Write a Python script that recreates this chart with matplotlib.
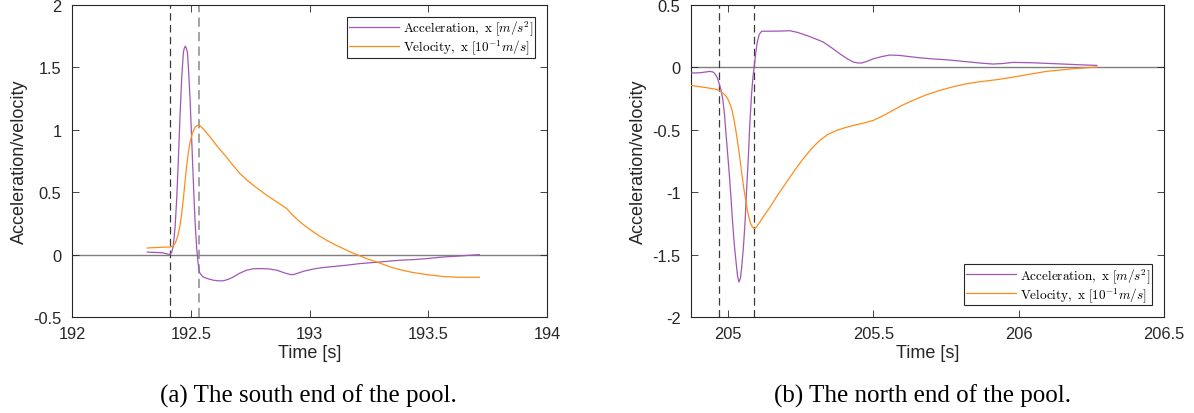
import matplotlib
matplotlib.use("Agg")
import matplotlib.pyplot as plt
import numpy as np

# ---------------- data ----------------
# (a) south end
t_acc_a = [192.317, 192.380, 192.413, 192.420, 192.427, 192.434, 192.441, 192.448,
           192.455, 192.462, 192.469, 192.473, 192.477, 192.481, 192.486, 192.491,
           192.497, 192.504, 192.511, 192.518, 192.525, 192.531, 192.536, 192.545,
           192.553, 192.575, 192.595, 192.615, 192.637, 192.658, 192.679, 192.705,
           192.735, 192.765, 192.792, 192.830, 192.862, 192.885, 192.904, 192.920,
           192.932, 192.950, 192.974, 193.010, 193.044, 193.080, 193.114, 193.160,
           193.213, 193.297, 193.381, 193.440, 193.493, 193.564, 193.634, 193.715]
acc_a = [0.02, 0.015, 0.0, 0.02, 0.075, 0.22, 0.45, 0.77,
         1.12, 1.42, 1.62, 1.655, 1.67, 1.655, 1.62, 1.47,
         1.25, 0.92, 0.58, 0.27, 0.05, -0.07, -0.14, -0.165,
         -0.18, -0.195, -0.205, -0.21, -0.21, -0.198, -0.18, -0.15,
         -0.125, -0.113, -0.112, -0.115, -0.125, -0.14, -0.152, -0.16,
         -0.16, -0.15, -0.134, -0.118, -0.107, -0.099, -0.093, -0.084,
         -0.072, -0.059, -0.045, -0.040, -0.032, -0.019, -0.011, 0.0]

t_vel_a = [192.317, 192.380, 192.413, 192.424, 192.434, 192.445, 192.455, 192.462,
           192.469, 192.476, 192.483, 192.490, 192.497, 192.507, 192.518, 192.525,
           192.532, 192.539, 192.546, 192.563, 192.581, 192.615, 192.651, 192.680,
           192.707, 192.735, 192.764, 192.792, 192.820, 192.860, 192.904, 192.930,
           192.960, 192.988, 193.016, 193.044, 193.072, 193.107, 193.142, 193.170,
           193.199, 193.240, 193.283, 193.320, 193.353, 193.395, 193.437, 193.493,
           193.564, 193.634, 193.715]
vel_a = [0.053, 0.059, 0.061, 0.068, 0.088, 0.145, 0.235, 0.33,
         0.45, 0.585, 0.716, 0.82, 0.90, 0.975, 1.02, 1.032,
         1.036, 1.031, 1.02, 0.985, 0.943, 0.86, 0.78, 0.71,
         0.65, 0.60, 0.555, 0.515, 0.475, 0.425, 0.369, 0.315,
         0.262, 0.22, 0.182, 0.147, 0.115, 0.08, 0.048, 0.023,
         0.0, -0.032, -0.059, -0.085, -0.107, -0.127, -0.144, -0.16,
         -0.176, -0.182, -0.182]

marks_a = [192.413, 192.533]

# (b) north end
t_acc_b = [204.873, 204.904, 204.938, 204.948, 204.955, 204.963, 204.970, 204.976,
           204.982, 204.988, 204.993, 204.999, 205.005, 205.011, 205.016, 205.022,
           205.028, 205.033, 205.038, 205.043, 205.047, 205.053, 205.059, 205.064,
           205.070, 205.075, 205.081, 205.086, 205.091, 205.096, 205.101, 205.108,
           205.116, 205.145, 205.180, 205.213, 205.240, 205.271, 205.300, 205.328,
           205.357, 205.385, 205.410, 205.431, 205.446, 205.460, 205.480, 205.500,
           205.530, 205.557, 205.591, 205.625, 205.660, 205.705, 205.752, 205.792,
           205.832, 205.872, 205.912, 205.945, 205.980, 206.049, 206.100, 206.152,
           206.210, 206.269]
acc_b = [-0.045, -0.043, -0.032, -0.036, -0.05, -0.08, -0.13, -0.18,
         -0.25, -0.37, -0.52, -0.69, -0.865, -1.06, -1.24, -1.42,
         -1.56, -1.67, -1.72, -1.69, -1.61, -1.45, -1.24, -0.99,
         -0.73, -0.47, -0.224, -0.08, 0.016, 0.12, 0.203, 0.265,
         0.29, 0.29, 0.291, 0.294, 0.28, 0.256, 0.23, 0.203,
         0.157, 0.109, 0.07, 0.043, 0.036, 0.035, 0.05, 0.069,
         0.087, 0.099, 0.096, 0.086, 0.077, 0.068, 0.061, 0.052,
         0.043, 0.034, 0.027, 0.031, 0.040, 0.037, 0.032, 0.027,
         0.021, 0.016]

t_vel_b = [204.873, 204.927, 204.961, 204.970, 204.978, 204.987, 204.996, 205.004,
           205.013, 205.021, 205.030, 205.039, 205.047, 205.055, 205.064, 205.071,
           205.078, 205.085, 205.092, 205.100, 205.110, 205.125, 205.145, 205.172,
           205.202, 205.230, 205.259, 205.287, 205.316, 205.345, 205.374, 205.400,
           205.431, 205.465, 205.500, 205.535, 205.568, 205.600, 205.637, 205.680,
           205.729, 205.775, 205.820, 205.870, 205.923, 205.970, 206.015, 206.095,
           206.187, 206.269]
vel_b = [-0.144, -0.163, -0.176, -0.185, -0.198, -0.214, -0.238, -0.275,
         -0.331, -0.42, -0.545, -0.69, -0.838, -0.975, -1.105, -1.19,
         -1.252, -1.282, -1.292, -1.272, -1.239, -1.185, -1.119, -1.02,
         -0.919, -0.823, -0.732, -0.652, -0.585, -0.535, -0.505, -0.485,
         -0.465, -0.447, -0.425, -0.386, -0.344, -0.303, -0.264, -0.222,
         -0.184, -0.155, -0.131, -0.114, -0.099, -0.082, -0.064, -0.032,
         -0.011, 0.003]

marks_b = [204.970, 205.090]

xticks_a = [192, 192.5, 193, 193.5, 194]
xticklabels_a = ["192", "192.5", "193", "193.5", "194"]
yticks_a = [-0.5, 0, 0.5, 1, 1.5, 2]
yticklabels_a = ["-0.5", "0", "0.5", "1", "1.5", "2"]

xticks_b = [205, 205.5, 206, 206.5]
xticklabels_b = ["205", "205.5", "206", "206.5"]
yticks_b = [-2, -1.5, -1, -0.5, 0, 0.5]
yticklabels_b = ["-2", "-1.5", "-1", "-0.5", "0", "0.5"]

lab_acc = r"$\mathrm{Acceleration,\ x\ }[m/s^2]$"
lab_vel = r"$\mathrm{Velocity,\ x\ }[10^{-1}m/s]$"
captions = ["(a) The south end of the pool.", "(b) The north end of the pool."]

# ---------------- styling ----------------
plt.rcParams["font.family"] = ["Liberation Sans", "DejaVu Sans"]
plt.rcParams["mathtext.fontset"] = "cm"

C_ACC = "#A057B5"
C_VEL = "#FF8C1A"
TXT = "#262626"

W, H = 1194, 414
fig = plt.figure(figsize=(W / 100, H / 100), dpi=100)

def px_axes(l, t, r, b):
    return [l / W, 1 - b / H, (r - l) / W, (b - t) / H]

ax_a = fig.add_axes(px_axes(72, 6, 547, 318))
ax_b = fig.add_axes(px_axes(691, 6, 1164, 318))

def style(ax, xlim, ylim, xt, xtl, yt, ytl):
    ax.set_xlim(*xlim)
    ax.set_ylim(*ylim)
    ax.set_xticks(xt)
    ax.set_xticklabels(xtl)
    ax.set_yticks(yt)
    ax.set_yticklabels(ytl)
    ax.tick_params(direction="in", top=True, right=True, length=5, width=0.6,
                   labelsize=11.8, colors=TXT)
    ax.tick_params(axis="x", pad=6.5)
    ax.tick_params(axis="y", pad=7.5)
    for s in ax.spines.values():
        s.set_linewidth(0.8)
        s.set_color(TXT)
    ax.set_xlabel("Time [s]", fontsize=13, color=TXT, labelpad=2.2)
    ax.set_ylabel("Acceleration/velocity", fontsize=13, color=TXT, labelpad=4)
    ax.axhline(0, color="#7f7f7f", lw=1.0, zorder=1)

style(ax_a, (192, 194), (-0.5, 2), xticks_a, xticklabels_a, yticks_a, yticklabels_a)
style(ax_b, (204.873, 206.5), (-2, 0.5), xticks_b, xticklabels_b, yticks_b, yticklabels_b)

ax_a.plot(t_acc_a, acc_a, color=C_ACC, lw=0.9, label=lab_acc, zorder=3)
ax_a.plot(t_vel_a, vel_a, color=C_VEL, lw=0.9, label=lab_vel, zorder=3)
ax_a.axvline(marks_a[0], color="#3a3a3a", lw=0.9, dashes=(6, 3.5), zorder=2)
ax_a.axvline(marks_a[1], color="#8a8a8a", lw=1.1, dashes=(6, 3.5), zorder=2)

ax_b.plot(t_acc_b, acc_b, color=C_ACC, lw=0.9, label=lab_acc, zorder=3)
ax_b.plot(t_vel_b, vel_b, color=C_VEL, lw=0.9, label=lab_vel, zorder=3)
for m in marks_b:
    ax_b.axvline(m, color="#3a3a3a", lw=0.9, dashes=(6, 3.5), zorder=2)

for ax, loc in ((ax_a, "upper right"), (ax_b, "lower right")):
    leg = ax.legend(loc=loc, fontsize=9.5, handlelength=3.8, handletextpad=0.3,
                    borderpad=0.12, labelspacing=0.0, fancybox=False,
                    framealpha=1, edgecolor=TXT, borderaxespad=0.9)
    leg.get_frame().set_linewidth(0.8)

fig.text(308 / W, 1 - 403 / H, captions[0], ha="center", va="baseline",
         fontsize=18, family=["Liberation Serif", "DejaVu Serif"])
fig.text(922 / W, 1 - 403 / H, captions[1], ha="center", va="baseline",
         fontsize=18, family=["Liberation Serif", "DejaVu Serif"])

fig.savefig("out.png", dpi=100)
